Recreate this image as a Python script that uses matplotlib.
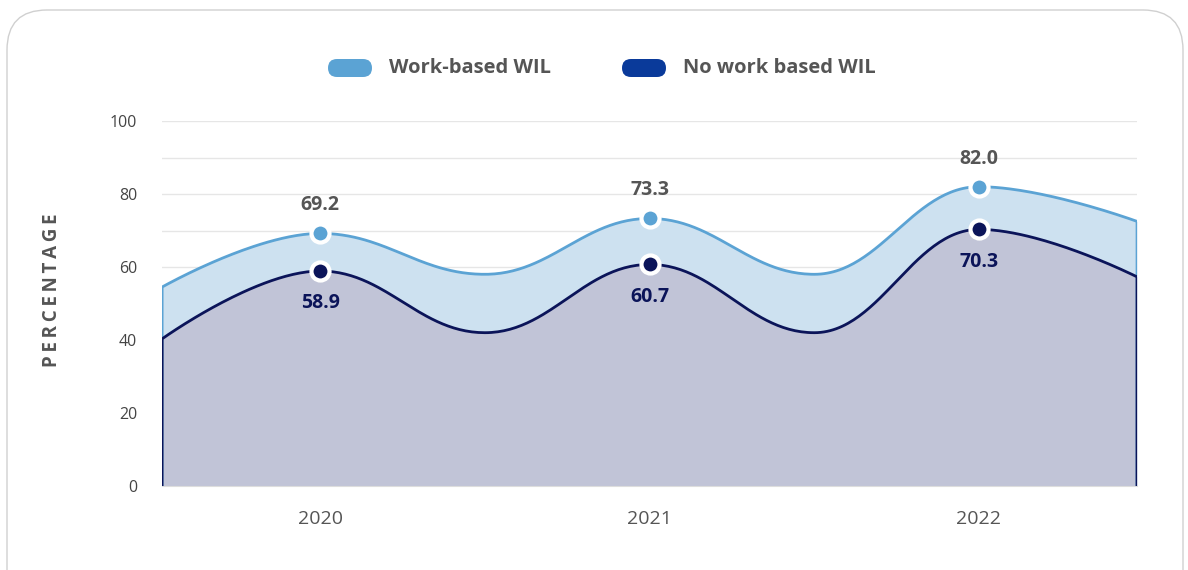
import numpy as np
import matplotlib.pyplot as plt
from matplotlib.patches import FancyBboxPatch
from matplotlib.ticker import MultipleLocator

plt.rcParams['font.family'] = ['Open Sans', 'DejaVu Sans']

# survey years and headline percentages
years = ['2020', '2021', '2022']
work_based = [69.2, 73.3, 82.0]
no_work_based = [58.9, 60.7, 70.3]

# shape points of the smoothed area between/beyond the years (edges and mid-year dips)
shape_x = [-0.48, 0.5, 1.5, 2.48]
work_shape = [54.5, 58.0, 58.0, 72.5]
no_work_shape = [40.3, 42.0, 42.0, 57.3]

c_work = '#5BA3D4'
c_work_fill = '#CDE1F0'
c_nowork = '#0B1459'
c_nowork_fill = '#C1C4D7'
c_legend_nowork = '#0A3A9A'
c_text = '#555555'


def merge(xs_a, ys_a, xs_b, ys_b):
    pts = sorted(zip(list(xs_a) + list(xs_b), list(ys_a) + list(ys_b)))
    return [p[0] for p in pts], [p[1] for p in pts]


def spline(xs, ys, n=60, smoothing=1.5):
    # bezier spline with control points clamped to avoid false extremes
    denom = smoothing + 1
    cont = []
    for i in range(len(xs)):
        x, y = xs[i], ys[i]
        if 0 < i < len(xs) - 1:
            lx, ly, nx, ny = xs[i - 1], ys[i - 1], xs[i + 1], ys[i + 1]
            lcx, lcy = (smoothing * x + lx) / denom, (smoothing * y + ly) / denom
            rcx, rcy = (smoothing * x + nx) / denom, (smoothing * y + ny) / denom
            corr = (rcy - lcy) * (rcx - x) / (rcx - lcx) + y - rcy
            lcy += corr
            rcy += corr
            if lcy > ly and lcy > y:
                lcy = max(ly, y); rcy = 2 * y - lcy
            elif lcy < ly and lcy < y:
                lcy = min(ly, y); rcy = 2 * y - lcy
            if rcy > ny and rcy > y:
                rcy = max(ny, y); lcy = 2 * y - rcy
            elif rcy < ny and rcy < y:
                rcy = min(ny, y); lcy = 2 * y - rcy
            cont.append((lcx, lcy, rcx, rcy))
        else:
            cont.append((x, y, x, y))
    t = np.linspace(0, 1, n)[:, None]
    out = []
    for i in range(len(xs) - 1):
        p0 = np.array([xs[i], ys[i]])
        p1 = np.array(cont[i][2:])
        p2 = np.array(cont[i + 1][:2])
        p3 = np.array([xs[i + 1], ys[i + 1]])
        seg = (1 - t) ** 3 * p0 + 3 * (1 - t) ** 2 * t * p1 + 3 * (1 - t) * t ** 2 * p2 + t ** 3 * p3
        out.append(seg if i == 0 else seg[1:])
    out = np.vstack(out)
    return out[:, 0], out[:, 1]


xpos = np.arange(len(years))

fig = plt.figure(figsize=(11.88, 5.70), dpi=100)
ax = fig.add_axes([0.1364, 0.1474, 0.8207, 0.6403])

for vals, shape, line_c, fill_c in [(work_based, work_shape, c_work, c_work_fill),
                                    (no_work_based, no_work_shape, c_nowork, c_nowork_fill)]:
    mx, my = merge(xpos, vals, shape_x, shape)
    sx, sy = spline(mx, my)
    ax.fill_between(sx, 0, sy, color=fill_c, lw=0, zorder=2)
    ox = np.concatenate([[sx[0]], sx, [sx[-1]]])
    oy = np.concatenate([[0], sy, [0]])
    ax.plot(ox, oy, color=line_c, lw=2, zorder=3, solid_joinstyle='round')

ax.plot(xpos, work_based, 'o', ms=13, mfc=c_work, mec='white', mew=3, zorder=5)
ax.plot(xpos, no_work_based, 'o', ms=13, mfc=c_nowork, mec='white', mew=3, zorder=5)

for x, v in zip(xpos, work_based):
    ax.annotate(f'{v:.1f}', (x, v), xytext=(0, 13), textcoords='offset points',
                ha='center', va='bottom', fontsize=14, fontweight='bold', color=c_text, zorder=6)
for x, v in zip(xpos, no_work_based):
    ax.annotate(f'{v:.1f}', (x, v), xytext=(0, -16), textcoords='offset points',
                ha='center', va='top', fontsize=14, fontweight='bold', color=c_nowork, zorder=6)

ax.set_xlim(-0.48, 2.48)
ax.set_ylim(0, 100)
ax.set_xticks(xpos)
ax.set_xticklabels(years)
ax.yaxis.set_major_locator(MultipleLocator(20))
ax.yaxis.set_minor_locator(MultipleLocator(10))
ax.grid(axis='y', which='both', color='#E6E6E6', lw=1, zorder=0)
ax.set_axisbelow(True)
ax.tick_params(axis='both', which='both', length=0)
ax.tick_params(axis='y', labelsize=11.5, labelcolor='#444444', pad=18)
ax.tick_params(axis='x', labelsize=14, labelcolor=c_text, pad=17)
for side in ['top', 'right', 'left']:
    ax.spines[side].set_visible(False)
ax.spines['bottom'].set_color('#DDDDDD')

ax.set_ylabel('\u2009'.join('PERCENTAGE'), fontsize=13.5, fontweight='bold', color=c_text)
ax.yaxis.set_label_coords(-0.1026, 0.535)

# legend drawn as pills with labels
for px, label, col in [(328, 'Work-based WIL', c_work), (622, 'No work based WIL', c_legend_nowork)]:
    pill = FancyBboxPatch((px / 100, (570 - 77) / 100), 0.44, 0.18,
                          boxstyle='round,pad=0,rounding_size=0.09',
                          transform=fig.dpi_scale_trans, fc=col, ec='none')
    fig.patches.append(pill)
    fig.text((px + 61) / 1188, 1 - 68 / 570, label, fontsize=14.5, fontweight='bold',
             color=c_text, va='center', ha='left')

# card outline
card = FancyBboxPatch((0.07, -1.0), 11.76, 6.60, boxstyle='round,pad=0,rounding_size=0.4',
                      transform=fig.dpi_scale_trans, fc='none', ec='#D0D0D0', lw=1)
fig.patches.append(card)

fig.savefig('out.png', dpi=100)
